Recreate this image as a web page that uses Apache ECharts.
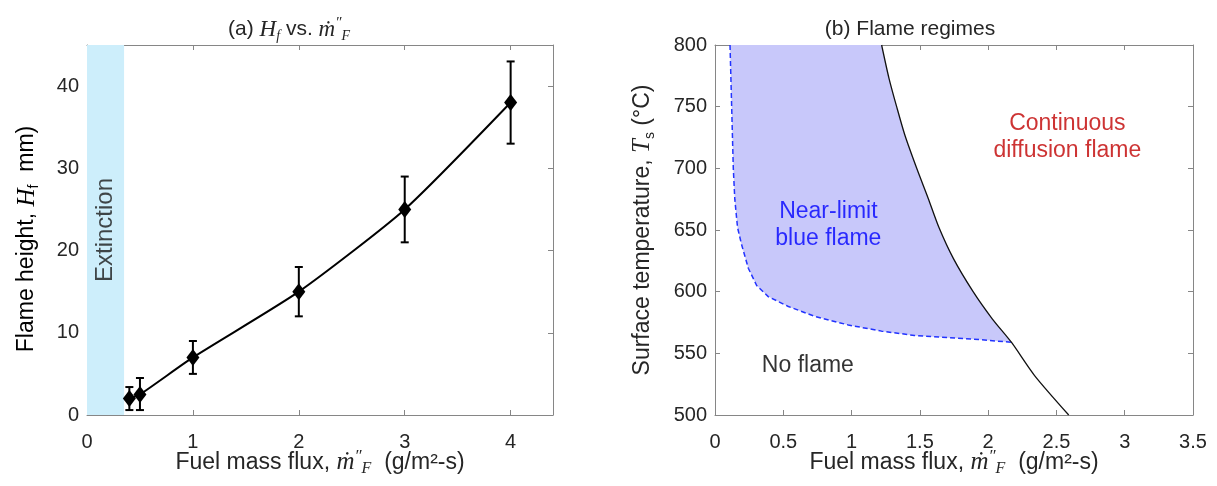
<!DOCTYPE html>
<html>
<head>
<meta charset="utf-8">
<script src="https://cdn.jsdelivr.net/npm/echarts@6/dist/echarts.min.js"></script>
<style>
  html, body { margin: 0; background: #fff; }
  #chart { width: 1217px; height: 486px; }
</style>
</head>
<body>
<div id="chart"></div>
<script>
// (a) flame height vs fuel mass flux
var fluxA = [0.4, 0.5, 1, 2, 3, 4];
var heightA = [2, 2.5, 7, 15, 25, 38];
var errLowA = [0.6, 0.6, 5, 12, 21, 33];
var errHighA = [3.4, 4.5, 9, 18, 29, 43];
var extinctionEnd = 0.35;

// (b) flame regime boundaries
var blueLimitX = [0.11, 0.122, 0.134, 0.145, 0.165, 0.195, 0.244, 0.305, 0.39, 0.537, 0.73, 0.976, 1.22, 1.46, 1.71, 1.95, 2.17];
var blueLimitT = [800, 750, 700, 675, 652, 638, 619, 605, 596, 588, 580, 573, 568, 564.5, 562.7, 561, 559];
var diffusionX = [1.22, 1.274, 1.33, 1.39, 1.477, 1.56, 1.64, 1.745, 1.89, 2.03, 2.17, 2.34, 2.59];
var diffusionT = [800, 773, 750, 727, 700, 676, 652, 627, 600, 578, 559, 532, 500];

var regimeNames = ['Near-limit\nblue flame', 'Continuous\ndiffusion flame', 'No flame'];
var regimeX = [0.83, 2.58, 0.68];
var regimeT = [654, 725, 540];
var regimeColors = ['#0000ff', '#c00000', '#000000'];

var SANS = 'Liberation Sans, Arial, sans-serif';
var SERIF = 'Liberation Serif, DejaVu Serif, serif';
var TXT = '#262626';
var AX = '#868686';

// rich styles for axis names (bigger) and titles
function makeRich(size) {
  return {
    t: { fontFamily: SANS, fontWeight: 'normal', fontSize: size, color: TXT, lineHeight: size + 6 },
    m: { fontFamily: SERIF, fontStyle: 'italic', fontWeight: 'normal', fontSize: size + 2, color: TXT, lineHeight: size + 6 },
    sb: { fontFamily: SERIF, fontStyle: 'italic', fontWeight: 'normal', fontSize: Math.round(size * 0.68), color: TXT, lineHeight: 15, verticalAlign: 'bottom' },
    sp: { fontFamily: SERIF, fontStyle: 'italic', fontWeight: 'normal', fontSize: Math.round(size * 0.72), color: TXT, lineHeight: 15, verticalAlign: 'top' },
    sbs: { fontFamily: SANS, fontWeight: 'normal', fontSize: Math.round(size * 0.62), color: TXT, lineHeight: 15, verticalAlign: 'bottom' }
  };
}
var richName = makeRich(23);
var richTitle = makeRich(21);

var chart = echarts.init(document.getElementById('chart'));

function xAx(grid, pos, min, max, interval, withLabels) {
  return {
    type: 'value', gridIndex: grid, position: pos, min: min, max: max, interval: interval,
    axisLine: { show: true, onZero: false, lineStyle: { color: AX, width: 1 } },
    axisTick: { show: true, inside: true, length: 5, lineStyle: { color: AX } },
    axisLabel: { show: withLabels, showMaxLabel: grid === 1, color: TXT, fontFamily: SANS, fontSize: 20, margin: 17 },
    splitLine: { show: false },
    name: withLabels ? '{t|Fuel mass flux, }{m|ṁ}{sp|″}{sb|F}{t|  (g/m²-s)}' : '',
    nameLocation: 'middle', nameGap: 33, nameMoveOverlap: false,
    nameTextStyle: { rich: richName }
  };
}
function yAx(grid, pos, min, max, interval, withLabels, name, gap) {
  return {
    type: 'value', gridIndex: grid, position: pos, min: min, max: max, interval: interval,
    axisLine: { show: true, onZero: false, lineStyle: { color: AX, width: 1 } },
    axisTick: { show: true, inside: true, length: 5, lineStyle: { color: AX } },
    axisLabel: { show: withLabels, showMaxLabel: grid === 1, color: TXT, fontFamily: SANS, fontSize: 20, margin: 8 },
    splitLine: { show: false },
    name: name || '', nameLocation: 'middle', nameGap: gap || 0,
    nameTextStyle: { rich: richName }
  };
}

var errData = fluxA.map(function (x, i) { return [x, errLowA[i], errHighA[i]]; });

var option = {
  animation: false,
  backgroundColor: '#fff',
  title: [
    { text: '{t|(a) }{m|H}{sb|f}{t| vs. }{m|ṁ}{sp|″}{sb|F}', left: 284, top: 11, textAlign: 'center', textStyle: { fontWeight: 'normal', rich: richTitle } },
    { text: '{t|(b) Flame regimes}', left: 905, top: 11, textAlign: 'center', textStyle: { fontWeight: 'normal', rich: richTitle } }
  ],
  grid: [
    { left: 87, top: 45, width: 466, height: 370, containLabel: false, outerBoundsMode: 'none' },
    { left: 715, top: 45, width: 478, height: 370, containLabel: false, outerBoundsMode: 'none' }
  ],
  xAxis: [
    xAx(0, 'bottom', 0, 4.4, 1, true),
    xAx(0, 'top', 0, 4.4, 1, false),
    xAx(1, 'bottom', 0, 3.5, 0.5, true),
    xAx(1, 'top', 0, 3.5, 0.5, false)
  ],
  yAxis: [
    yAx(0, 'left', 0, 45, 10, true),
    yAx(0, 'right', 0, 45, 10, false),
    yAx(1, 'left', 500, 800, 50, true, '{t|Surface temperature, }{m|T}{sbs|s}{t| (°C)}', 58),
    yAx(1, 'right', 500, 800, 50, false)
  ],
  graphic: [
    {
      type: 'text', x: 27, y: 239, rotation: Math.PI / 2,
      style: { text: '{t|Flame height, }{m|H}{sbs|f}{t|  mm)}', rich: richName, align: 'center', verticalAlign: 'middle' }
    }
  ],
  series: [
    {
      type: 'line', xAxisIndex: 0, yAxisIndex: 0,
      data: fluxA.map(function (x, i) { return [x, heightA[i]]; }),
      smooth: 0.2,
      symbol: 'diamond', symbolSize: [13, 17],
      itemStyle: { color: '#000' },
      lineStyle: { color: '#000', width: 2 },
      z: 5,
      markArea: {
        silent: true,
        itemStyle: { color: '#cdeefb', opacity: 1 },
        data: [[{ xAxis: 0 }, { xAxis: extinctionEnd }]]
      }
    },
    {
      type: 'custom', xAxisIndex: 0, yAxisIndex: 0,
      data: errData, z: 4,
      renderItem: function (params, api) {
        var lo = api.coord([api.value(0), api.value(1)]);
        var hi = api.coord([api.value(0), api.value(2)]);
        var w = 4;
        var st = { stroke: '#000', lineWidth: 2 };
        return {
          type: 'group',
          children: [
            { type: 'line', shape: { x1: lo[0], y1: lo[1], x2: hi[0], y2: hi[1] }, style: st },
            { type: 'line', shape: { x1: lo[0] - w, y1: lo[1], x2: lo[0] + w, y2: lo[1] }, style: st },
            { type: 'line', shape: { x1: hi[0] - w, y1: hi[1], x2: hi[0] + w, y2: hi[1] }, style: st }
          ]
        };
      }
    },
    {
      type: 'scatter', xAxisIndex: 0, yAxisIndex: 0, symbolSize: 0, silent: true,
      data: [[extinctionEnd / 2, 22.5]],
      label: { show: true, position: 'inside', formatter: 'Extinction', rotate: 90, color: '#1a1a1a', fontFamily: SANS, fontSize: 24 }
    },
    {
      type: 'custom', xAxisIndex: 2, yAxisIndex: 2, data: [[0, 0]], z: 1, silent: true,
      renderItem: function (params, api) {
        var pts = [];
        blueLimitX.forEach(function (x, i) { pts.push(api.coord([x, blueLimitT[i]])); });
        for (var j = diffusionX.length - 1; j >= 0; j--) {
          if (diffusionT[j] >= blueLimitT[blueLimitT.length - 1]) pts.push(api.coord([diffusionX[j], diffusionT[j]]));
        }
        return { type: 'polygon', shape: { points: pts }, style: { fill: '#c8c8fa' } };
      }
    },
    {
      type: 'line', xAxisIndex: 2, yAxisIndex: 2, symbol: 'none', z: 3,
      data: blueLimitX.map(function (x, i) { return [x, blueLimitT[i]]; }),
      lineStyle: { color: '#2233ff', width: 1.5, type: [5, 3] }
    },
    {
      type: 'line', xAxisIndex: 2, yAxisIndex: 2, symbol: 'none', z: 3,
      data: diffusionX.map(function (x, i) { return [x, diffusionT[i]]; }),
      smooth: 0.25,
      lineStyle: { color: '#111', width: 1.3 }
    },
    {
      type: 'scatter', xAxisIndex: 2, yAxisIndex: 2, symbolSize: 0, silent: true, z: 6,
      data: regimeNames.map(function (n, i) {
        return {
          value: [regimeX[i], regimeT[i]],
          label: { formatter: n, color: regimeColors[i] }
        };
      }),
      label: { show: true, position: 'inside', align: 'center', fontFamily: SANS, fontSize: 23, lineHeight: 27 }
    }
  ]
};

chart.setOption(option);
</script>
</body>
</html>
